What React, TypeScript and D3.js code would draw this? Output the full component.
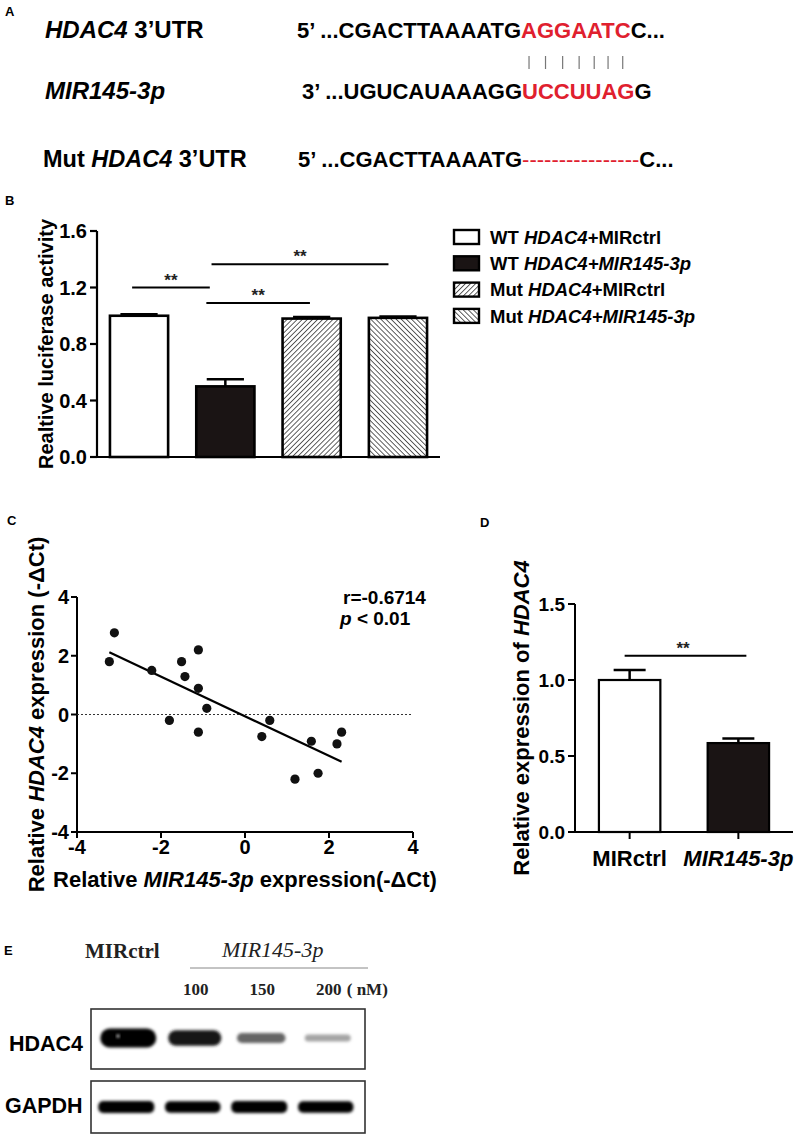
import React, { useEffect, useRef, useState } from 'react';
import * as d3 from 'd3';

const SANS = "'Liberation Sans', Arial, Helvetica, sans-serif";
const SERIF = "'Liberation Serif', 'Times New Roman', serif";

// ---------- Panel A: sequences ----------
const seqTopPre = '5’ ...CGACTTAAAATG';
const seqTopSeed = 'AGGAATC';
const seqTopPost = 'C...';
const seqMirPre = '3’ ...UGUCAUAAAGG';
const seqMirSeed = 'UCCUUAG';
const seqMirPost = 'G';
const seqMutPre = '5’ ...CGACTTAAAATG';
const seqMutDel = '----------------';
const seqMutPost = 'C...';

// ---------- Panel B: luciferase ----------
const bGroups = ['WT HDAC4+MIRctrl', 'WT HDAC4+MIR145-3p', 'Mut HDAC4+MIRctrl', 'Mut HDAC4+MIR145-3p'];
const bValues = [1.0, 0.5, 0.98, 0.985];
const bErrors = [0.01, 0.05, 0.012, 0.01];
const bTicks = [0, 0.4, 0.8, 1.2, 1.6];
const bTickLabels = ['0.0', '0.4', '0.8', '1.2', '1.6'];
const bSigFrom = [-0.08, 0.78, 0.84];
const bSigTo = [0.82, 1.98, 2.89];
const bSigY = [1.2, 1.09, 1.365];

// ---------- Panel C: correlation ----------
const cX = [-3.23, -3.11, -2.22, -1.8, -1.51, -1.43, -1.11, -1.11, -1.11, -0.91, 0.4, 0.59, 1.19, 1.58, 1.74, 2.19, 2.3];
const cY = [1.8, 2.78, 1.5, -0.2, 1.8, 1.29, 2.2, 0.89, -0.6, 0.21, -0.75, -0.2, -2.2, -0.91, -2.0, -1.0, -0.6];
const cSlope = -0.675;
const cIntercept = -0.06;
const cTicks = [-4, -2, 0, 2, 4];

// ---------- Panel D: qPCR ----------
const dGroups = ['MIRctrl', 'MIR145-3p'];
const dValues = [1.0, 0.585];
const dErrors = [0.065, 0.03];
const dTicks = [0, 0.5, 1.0, 1.5];
const dTickLabels = ['0.0', '0.5', '1.0', '1.5'];
const dSigY = 1.16;

// ---------- Panel E: western blot ----------
const eLanes = ['MIRctrl', '100', '150', '200'];
const eConc = ['100', '150', '200'];
const eHdac4 = [1.0, 0.8, 0.48, 0.3];
const eGapdh = [1.0, 0.96, 1.0, 0.95];

export default function App() {
  const topRef = useRef<SVGTextElement>(null);
  const [pairX, setPairX] = useState<number[]>([]);

  useEffect(() => {
    const el = topRef.current;
    if (!el) return;
    const start = seqTopPre.length;
    const xs: number[] = [];
    for (let i = 0; i < seqTopSeed.length; i++) {
      const a = el.getStartPositionOfChar(start + i).x;
      const b = el.getEndPositionOfChar(start + i).x;
      xs.push((a + b) / 2);
    }
    setPairX(xs);
  }, []);

  // Panel B scales
  const yB = d3.scaleLinear().domain([0, 1.6]).range([457, 231]);
  const xB = d3.scaleBand<number>().domain(d3.range(bValues.length)).range([97, 440]).paddingInner(0.326).paddingOuter(0.15);
  const bCenter = d3.scaleLinear().domain([0, 1]).range([xB(0)! + xB.bandwidth() / 2, xB(1)! + xB.bandwidth() / 2]);
  const bFills = ['#ffffff', '#1a1414', 'url(#hatchF)', 'url(#hatchB)'];

  // Panel C scales
  const xC = d3.scaleLinear().domain([-4, 4]).range([77, 413]);
  const yC = d3.scaleLinear().domain([-4, 4]).range([832, 597]);
  const cx0 = d3.min(cX)!;
  const cx1 = d3.max(cX)!;

  // Panel D scales
  const yD = d3.scaleLinear().domain([0, 1.5]).range([832, 604]);
  const xD = d3.scaleBand<string>().domain(dGroups).range([575, 793]).paddingInner(0.435).paddingOuter(0.22);
  const dFills = ['#ffffff', '#1a1414'];

  // Panel E scales
  const xE = d3.scaleBand<string>().domain(eLanes).range([95, 361]);
  const bandW = d3.scaleLinear().domain([0.3, 1]).range([46, 56]);
  const bandH = d3.scaleLinear().domain([0.3, 1]).range([7, 19]);
  const bandC = d3.scaleLinear<string>().domain([0.3, 0.5, 0.8, 1]).range(['#a4a4a4', '#5e5e5e', '#141414', '#000000']);

  const bold = { fontFamily: SANS, fontWeight: 700 } as const;

  const legendRows: { t: string; i?: boolean }[][] = [
    [{ t: 'WT ' }, { t: 'HDAC4', i: true }, { t: '+MIRctrl' }],
    [{ t: 'WT ' }, { t: 'HDAC4+MIR145-3p', i: true }],
    [{ t: 'Mut ' }, { t: 'HDAC4', i: true }, { t: '+MIRctrl' }],
    [{ t: 'Mut ' }, { t: 'HDAC4+MIR145-3p', i: true }],
  ];

  return (
    <svg width={800} height={1139} style={{ position: 'absolute', left: 0, top: 0, background: '#fff' }}>
      <defs>
        <pattern id="hatchF" patternUnits="userSpaceOnUse" width="3.6" height="3.6" patternTransform="rotate(45)">
          <rect width="3.6" height="3.6" fill="#fff" />
          <line x1="0" y1="0" x2="0" y2="3.6" stroke="#2a2a2a" strokeWidth="1.5" />
        </pattern>
        <pattern id="hatchB" patternUnits="userSpaceOnUse" width="3.6" height="3.6" patternTransform="rotate(-45)">
          <rect width="3.6" height="3.6" fill="#fff" />
          <line x1="0" y1="0" x2="0" y2="3.6" stroke="#2a2a2a" strokeWidth="1.5" />
        </pattern>
        <filter id="blur" x="-20%" y="-80%" width="140%" height="260%">
          <feGaussianBlur stdDeviation="1.6" />
        </filter>
      </defs>
      <rect width={800} height={1139} fill="#fff" />

      {/* ---------------- Panel A ---------------- */}
      <text x={5} y={16} fontSize={13} {...bold}>A</text>
      <text x={45} y={38} fontSize={24} {...bold}>
        <tspan fontStyle="italic">HDAC4</tspan> 3’UTR
      </text>
      <text ref={topRef} x={297} y={38} fontSize={22} {...bold}>
        <tspan>{seqTopPre}</tspan>
        <tspan fill="#e0202e">{seqTopSeed}</tspan>
        <tspan>{seqTopPost}</tspan>
      </text>
      {pairX.map((x, i) => (
        <line key={i} x1={x} x2={x} y1={56} y2={69} stroke="#777" strokeWidth={1.2} />
      ))}
      <text x={45} y={99} fontSize={24} {...bold} fontStyle="italic">MIR145-3p</text>
      <text x={302} y={99} fontSize={22} {...bold}>
        <tspan>{seqMirPre}</tspan>
        <tspan fill="#e0202e">{seqMirSeed}</tspan>
        <tspan>{seqMirPost}</tspan>
      </text>
      <text x={43} y={167} fontSize={23.5} {...bold}>
        Mut <tspan fontStyle="italic">HDAC4</tspan> 3’UTR
      </text>
      <text x={298} y={167} fontSize={22} {...bold}>
        <tspan>{seqMutPre}</tspan>
        <tspan fill="#e0202e" fontWeight={400}>{seqMutDel}</tspan>
        <tspan>{seqMutPost}</tspan>
      </text>

      {/* ---------------- Panel B ---------------- */}
      <text x={5} y={205} fontSize={13} {...bold}>B</text>
      <line x1={97} x2={97} y1={yB(1.6)} y2={yB(0)} stroke="#000" strokeWidth={2.2} />
      <line x1={90} x2={440} y1={yB(0)} y2={yB(0)} stroke="#000" strokeWidth={2.2} />
      {bTicks.map((t, i) => (
        <g key={i}>
          <line x1={90} x2={97} y1={yB(t)} y2={yB(t)} stroke="#000" strokeWidth={2.2} />
          <text x={87} y={yB(t)} dy="0.36em" textAnchor="end" fontSize={20} {...bold}>{bTickLabels[i]}</text>
        </g>
      ))}
      <text transform={`translate(53,${(yB(0) + yB(1.6)) / 2}) rotate(-90)`} textAnchor="middle" fontSize={20} {...bold}>
        Realtive luciferase activity
      </text>
      {bValues.map((v, i) => {
        const x = xB(i)!;
        const w = xB.bandwidth();
        const cx = x + w / 2;
        const cap = w * 0.64;
        return (
          <g key={i}>
            <line x1={cx} x2={cx} y1={yB(v)} y2={yB(v + bErrors[i])} stroke="#000" strokeWidth={2.5} />
            <line x1={cx - cap / 2} x2={cx + cap / 2} y1={yB(v + bErrors[i])} y2={yB(v + bErrors[i])} stroke="#000" strokeWidth={2.5} />
            <rect x={x} y={yB(v)} width={w} height={yB(0) - yB(v)} fill={bFills[i]} stroke="#000" strokeWidth={2.6} />
          </g>
        );
      })}
      {bSigY.map((y, i) => (
        <g key={i}>
          <line x1={bCenter(bSigFrom[i])} x2={bCenter(bSigTo[i])} y1={yB(y)} y2={yB(y)} stroke="#000" strokeWidth={2} />
          <text x={(bCenter(bSigFrom[i]) + bCenter(bSigTo[i])) / 2} y={yB(y) - 2} textAnchor="middle" fontSize={17} {...bold} fill="#222">**</text>
        </g>
      ))}
      {legendRows.map((row, i) => {
        const cy = 237 + i * 26.3;
        return (
          <g key={i}>
            <rect x={454} y={cy - 7} width={25} height={14} fill={bFills[i]} stroke="#000" strokeWidth={2.4} />
            <text x={490} y={cy} dy="0.36em" fontSize={18.5} {...bold}>
              {row.map((p, j) => (
                <tspan key={j} fontStyle={p.i ? 'italic' : 'normal'}>{p.t}</tspan>
              ))}
            </text>
          </g>
        );
      })}

      {/* ---------------- Panel C ---------------- */}
      <text x={7} y={525} fontSize={13} {...bold}>C</text>
      <line x1={xC(-4)} x2={xC(-4)} y1={yC(4)} y2={yC(-4)} stroke="#000" strokeWidth={2} />
      <line x1={xC(-4)} x2={xC(4)} y1={yC(-4)} y2={yC(-4)} stroke="#000" strokeWidth={2} />
      {cTicks.map((t, i) => (
        <g key={i}>
          <line x1={xC(-4) - 6} x2={xC(-4)} y1={yC(t)} y2={yC(t)} stroke="#000" strokeWidth={2} />
          <text x={xC(-4) - 8} y={yC(t)} dy="0.36em" textAnchor="end" fontSize={20} {...bold}>{t}</text>
          <line x1={xC(t)} x2={xC(t)} y1={yC(-4)} y2={yC(-4) + 6} stroke="#000" strokeWidth={2} />
          <text x={xC(t)} y={yC(-4) + 22} textAnchor="middle" fontSize={20} {...bold}>{t}</text>
        </g>
      ))}
      <line x1={xC(-4)} x2={xC(4)} y1={yC(0)} y2={yC(0)} stroke="#333" strokeWidth={1} strokeDasharray="2,2" />
      <line x1={xC(cx0)} x2={xC(cx1)} y1={yC(cSlope * cx0 + cIntercept)} y2={yC(cSlope * cx1 + cIntercept)} stroke="#000" strokeWidth={2.2} />
      {cX.map((x, i) => (
        <circle key={i} cx={xC(x)} cy={yC(cY[i])} r={4.6} fill="#111" />
      ))}
      <text x={343} y={604} fontSize={19} {...bold}>r=-0.6714</text>
      <text x={340} y={625} fontSize={19} {...bold}>
        <tspan fontStyle="italic">p</tspan> &lt; 0.01
      </text>
      <text x={(xC(-4) + xC(4)) / 2} y={887} textAnchor="middle" fontSize={22} {...bold}>
        Relative <tspan fontStyle="italic">MIR145-3p</tspan> expression(-ΔCt)
      </text>
      <text transform={`translate(44,${(yC(-4) + yC(4)) / 2}) rotate(-90)`} textAnchor="middle" fontSize={22} {...bold}>
        Relative <tspan fontStyle="italic">HDAC4</tspan> expression (-ΔCt)
      </text>

      {/* ---------------- Panel D ---------------- */}
      <text x={480} y={527} fontSize={13} {...bold}>D</text>
      <line x1={575} x2={575} y1={yD(1.5)} y2={yD(0)} stroke="#000" strokeWidth={2} />
      <line x1={568} x2={793} y1={yD(0)} y2={yD(0)} stroke="#000" strokeWidth={2} />
      {dTicks.map((t, i) => (
        <g key={i}>
          <line x1={568} x2={575} y1={yD(t)} y2={yD(t)} stroke="#000" strokeWidth={2} />
          <text x={565} y={yD(t)} dy="0.36em" textAnchor="end" fontSize={19} {...bold}>{dTickLabels[i]}</text>
        </g>
      ))}
      {dValues.map((v, i) => {
        const g = dGroups[i];
        const x = xD(g)!;
        const w = xD.bandwidth();
        const cx = x + w / 2;
        const cap = 32;
        return (
          <g key={i}>
            <line x1={cx} x2={cx} y1={yD(0)} y2={yD(0) + 7} stroke="#000" strokeWidth={2} />
            <line x1={cx} x2={cx} y1={yD(v)} y2={yD(v + dErrors[i])} stroke="#000" strokeWidth={2.5} />
            <line x1={cx - cap / 2} x2={cx + cap / 2} y1={yD(v + dErrors[i])} y2={yD(v + dErrors[i])} stroke="#000" strokeWidth={2.5} />
            <rect x={x} y={yD(v)} width={w} height={yD(0) - yD(v)} fill={dFills[i]} stroke="#000" strokeWidth={2.2} />
            <text x={cx} y={866} textAnchor="middle" fontSize={22} {...bold} fontStyle={i === 1 ? 'italic' : 'normal'}>{g}</text>
          </g>
        );
      })}
      <line x1={xD(dGroups[0])! + xD.bandwidth() / 2 - 5} x2={xD(dGroups[1])! + xD.bandwidth() / 2 + 8} y1={yD(dSigY)} y2={yD(dSigY)} stroke="#000" strokeWidth={2} />
      <text x={683} y={yD(dSigY) - 2} textAnchor="middle" fontSize={17} {...bold} fill="#222">**</text>
      <text transform={`translate(529,${(yD(0) + yD(1.5)) / 2}) rotate(-90)`} textAnchor="middle" fontSize={22} {...bold}>
        Relative expression of <tspan fontStyle="italic">HDAC4</tspan>
      </text>

      {/* ---------------- Panel E ---------------- */}
      <text x={4} y={955} fontSize={13} {...bold}>E</text>
      <text x={85} y={958} fontSize={21} fontFamily={SERIF} fontWeight={700} fill="#222">MIRctrl</text>
      <text x={222} y={957} fontSize={22} fontFamily={SERIF} fontStyle="italic" fill="#222">MIR145-3p</text>
      <line x1={190} x2={368} y1={968} y2={968} stroke="#888" strokeWidth={1} />
      {eConc.map((c, i) => (
        <text key={i} x={xE(eLanes[i + 1])! + xE.bandwidth() / 2 + 1} y={995} textAnchor="middle" fontSize={17} fontFamily={SERIF} fontWeight={700} fill="#222">{c}</text>
      ))}
      <text x={xE(eLanes[3])! + xE.bandwidth() / 2 + 19} y={995} fontSize={17} fontFamily={SERIF} fontWeight={700} fill="#222">( nM)</text>

      <rect x={91} y={1009} width={274} height={60} fill="#fff" stroke="#333" strokeWidth={1.6} />
      <rect x={91} y={1081} width={274} height={52} fill="#fff" stroke="#333" strokeWidth={1.6} />
      <text x={9} y={1051} fontSize={21.5} {...bold}>HDAC4</text>
      <text x={5} y={1113} fontSize={21.5} {...bold}>GAPDH</text>
      <g filter="url(#blur)">
        {eHdac4.map((v, i) => {
          const cx = xE(eLanes[i])! + xE.bandwidth() / 2;
          const w = bandW(v);
          const h = bandH(v);
          return <rect key={i} x={cx - w / 2} y={1038 - h / 2} width={w} height={h} rx={h / 2} fill={bandC(v)} />;
        })}
        {eGapdh.map((v, i) => {
          const cx = xE(eLanes[i])! + xE.bandwidth() / 2 - 2;
          const w = bandW(v);
          const h = 12 * v;
          return <rect key={i} x={cx - w / 2} y={1107 - h / 2} width={w} height={h} rx={5} fill={bandC(v)} />;
        })}
      </g>
      <circle cx={118} cy={1036} r={1.5} fill="#fff" filter="url(#blur)" />
    </svg>
  );
}
